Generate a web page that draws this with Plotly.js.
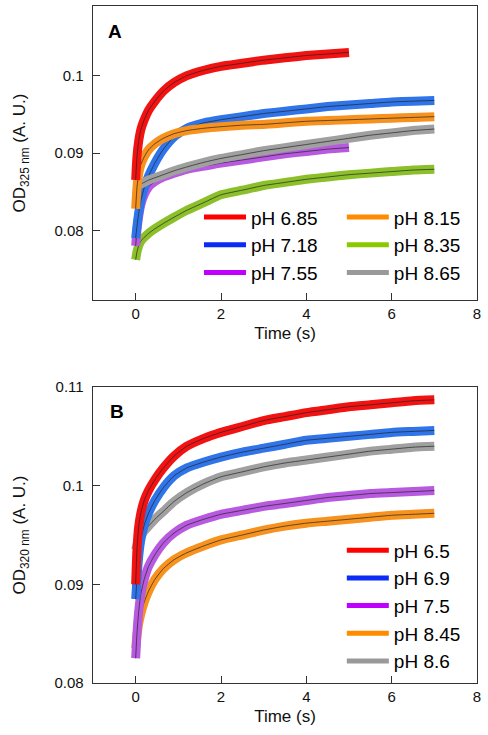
<!DOCTYPE html>
<html>
<head>
<meta charset="utf-8">
<script src="https://cdn.plot.ly/plotly-3.0.1.min.js"></script>
<style>html,body{margin:0;padding:0;background:#fff;}#chart{width:488px;height:735px;}</style>
</head>
<body>
<div id="chart"></div>
<script>
// ---- Panel A data (OD 325 nm) ----
const timeA5 = [0, 0.03, 0.07, 0.12, 0.2, 0.3, 0.45, 0.65, 0.9, 1.2, 1.6, 2, 2.5, 3, 3.5, 4, 4.5, 5];
const timeA7 = [0, 0.03, 0.07, 0.12, 0.2, 0.3, 0.45, 0.65, 0.9, 1.2, 1.6, 2, 2.5, 3, 3.5, 4, 4.5, 5, 5.5, 6, 6.5, 7];
const namesA = ["pH 6.85", "pH 7.18", "pH 7.55", "pH 8.15", "pH 8.35", "pH 8.65"];
const ph685 = [0.0865, 0.0895, 0.0915, 0.0930, 0.0943, 0.0955, 0.0967, 0.0980, 0.0991, 0.1000, 0.1007, 0.1012, 0.1016, 0.1020, 0.1023, 0.1026, 0.1028, 0.1030];
const ph718 = [0.0790, 0.0805, 0.0822, 0.0838, 0.0855, 0.0870, 0.0887, 0.0905, 0.0921, 0.0932, 0.0939, 0.0943, 0.0947, 0.0951, 0.0954, 0.0957, 0.0960, 0.0962, 0.0964, 0.0966, 0.0967, 0.0968];
const ph755 = [0.0780, 0.0800, 0.0818, 0.0833, 0.0846, 0.0856, 0.0863, 0.0869, 0.0874, 0.0879, 0.0883, 0.0887, 0.0891, 0.0895, 0.0899, 0.0902, 0.0905, 0.0907];
const ph815 = [0.0828, 0.0855, 0.0873, 0.0885, 0.0895, 0.0904, 0.0912, 0.0919, 0.0925, 0.0929, 0.0932, 0.0934, 0.0936, 0.0937, 0.0939, 0.0941, 0.0942, 0.0943, 0.0944, 0.0945, 0.0946, 0.0947];
const ph835 = [0.0762, 0.0772, 0.0780, 0.0786, 0.0791, 0.0796, 0.0802, 0.0809, 0.0817, 0.0826, 0.0836, 0.0846, 0.0852, 0.0858, 0.0862, 0.0866, 0.0869, 0.0872, 0.0874, 0.0876, 0.0878, 0.0879];
const ph865 = [0.0855, 0.0856, 0.0858, 0.0860, 0.0862, 0.0865, 0.0868, 0.0872, 0.0877, 0.0882, 0.0888, 0.0893, 0.0898, 0.0903, 0.0907, 0.0911, 0.0915, 0.0919, 0.0923, 0.0926, 0.0929, 0.0931];

// ---- Panel B data (OD 320 nm) ----
const timeB = [0, 0.03, 0.07, 0.12, 0.2, 0.3, 0.45, 0.65, 0.9, 1.2, 1.6, 2, 2.5, 3, 3.5, 4, 4.5, 5, 5.5, 6, 6.5, 7];
const namesB = ["pH 6.5", "pH 6.9", "pH 7.5", "pH 8.45", "pH 8.6"];
const ph65  = [0.0900, 0.0935, 0.0958, 0.0972, 0.0985, 0.0995, 0.1006, 0.1018, 0.1030, 0.1040, 0.1048, 0.1054, 0.1060, 0.1066, 0.1070, 0.1074, 0.1077, 0.1080, 0.1082, 0.1084, 0.1086, 0.1087];
const ph69  = [0.0885, 0.0905, 0.0928, 0.0945, 0.0960, 0.0972, 0.0985, 0.0998, 0.1010, 0.1018, 0.1024, 0.1029, 0.1034, 0.1038, 0.1042, 0.1046, 0.1048, 0.1050, 0.1052, 0.1054, 0.1055, 0.1056];
const ph75  = [0.0825, 0.0850, 0.0872, 0.0890, 0.0905, 0.0918, 0.0930, 0.0942, 0.0952, 0.0960, 0.0966, 0.0971, 0.0975, 0.0979, 0.0982, 0.0985, 0.0988, 0.0990, 0.0992, 0.0993, 0.0994, 0.0995];
const ph845 = [0.0835, 0.0848, 0.0860, 0.0870, 0.0882, 0.0893, 0.0905, 0.0916, 0.0925, 0.0932, 0.0939, 0.0945, 0.0950, 0.0955, 0.0959, 0.0962, 0.0964, 0.0966, 0.0968, 0.0970, 0.0971, 0.0972];
const ph86  = [0.0935, 0.0940, 0.0945, 0.0949, 0.0954, 0.0959, 0.0966, 0.0974, 0.0984, 0.0993, 0.1002, 0.1009, 0.1014, 0.1019, 0.1023, 0.1026, 0.1029, 0.1032, 0.1035, 0.1037, 0.1039, 0.1040];

// axis ticks
const xTicks = [0, 2, 4, 6, 8];
const yTicksA = [0.08, 0.09, 0.1];
const yTickTextA = ["0.08", "0.09", "0.1"];
const yTicksB = [0.08, 0.09, 0.1, 0.11];
const yTickTextB = ["0.08", "0.09", "0.1", "0.11"];

const FONT = "Liberation Sans, Arial, sans-serif";
const traces = [];
function addSeries(x, y, name, band, legendColor, xa, ya, legendId, rank) {
  traces.push({x: x, y: y, type: "scatter", mode: "lines", xaxis: xa, yaxis: ya,
    line: {color: band, width: 9, shape: "spline", smoothing: 0.5}, showlegend: false, hoverinfo: "skip"});
  traces.push({x: x, y: y, type: "scatter", mode: "lines", xaxis: xa, yaxis: ya,
    line: {color: "#222", width: 0.7, shape: "spline", smoothing: 0.5}, showlegend: false, hoverinfo: "skip"});
  traces.push({x: [null], y: [null], type: "scatter", mode: "lines", xaxis: xa, yaxis: ya, name: name,
    line: {color: legendColor, width: 5}, legend: legendId, legendrank: rank});
}
// Panel A
addSeries(timeA7, ph835, namesA[4], "#8cc02a", "#8cc800", "x", "y", "legend2", 2);
addSeries(timeA5, ph755, namesA[2], "#b85ae0", "#c000ff", "x", "y", "legend", 3);
addSeries(timeA7, ph718, namesA[1], "#2f74e8", "#0a2cf5", "x", "y", "legend", 2);
addSeries(timeA7, ph865, namesA[5], "#a0a0a0", "#999999", "x", "y", "legend2", 3);
addSeries(timeA7, ph815, namesA[3], "#f7921e", "#ff8c00", "x", "y", "legend2", 1);
addSeries(timeA5, ph685, namesA[0], "#f21212", "#ff0000", "x", "y", "legend", 1);
// Panel B
addSeries(timeB, ph845, namesB[3], "#f7921e", "#ff8c00", "x2", "y2", "legend3", 4);
addSeries(timeB, ph75,  namesB[2], "#b85ae0", "#c000ff", "x2", "y2", "legend3", 3);
addSeries(timeB, ph86,  namesB[4], "#a0a0a0", "#999999", "x2", "y2", "legend3", 5);
addSeries(timeB, ph69,  namesB[1], "#2f74e8", "#0a2cf5", "x2", "y2", "legend3", 2);
addSeries(timeB, ph65,  namesB[0], "#f21212", "#ff0000", "x2", "y2", "legend3", 1);

const axisCommon = {showline: true, mirror: true, linecolor: "#333", linewidth: 1.3,
  ticks: "inside", ticklen: 7, tickcolor: "#333", tickwidth: 1, showgrid: false, zeroline: false,
  tickfont: {family: FONT, size: 15, color: "#111"}};
const legendCommon = {bgcolor: "rgba(0,0,0,0)", font: {family: FONT, size: 19, color: "#000"},
  xanchor: "left", yanchor: "top", tracegroupgap: 0, itemwidth: 42, itemclick: false};
const xTitle = {text: "Time (s)", font: {family: FONT, size: 17, color: "#111"}, standoff: 5};

const layout = {
  width: 488, height: 735,
  margin: {l: 93, r: 11, t: 6, b: 52},
  paper_bgcolor: "#fff", plot_bgcolor: "#fff",
  font: {family: FONT},
  xaxis: Object.assign({}, axisCommon, {domain: [0, 1], anchor: "y", range: [-1, 8], tickvals: xTicks, title: xTitle}),
  yaxis: Object.assign({}, axisCommon, {domain: [0.5657, 1], anchor: "x", range: [0.071, 0.109],
    tickvals: yTicksA, ticktext: yTickTextA, ticklabelstandoff: 5,
    title: {text: "OD<sub>325 nm</sub> (A. U.)", font: {family: FONT, size: 17, color: "#111"}, standoff: 24}}),
  xaxis2: Object.assign({}, axisCommon, {domain: [0, 1], anchor: "y2", range: [-1, 8], tickvals: xTicks, title: xTitle}),
  yaxis2: Object.assign({}, axisCommon, {domain: [0, 0.4372], anchor: "x2", range: [0.08, 0.11],
    tickvals: yTicksB, ticktext: yTickTextB, ticklabelstandoff: 5,
    title: {text: "OD<sub>320 nm</sub> (A. U.)", font: {family: FONT, size: 17, color: "#111"}, standoff: 24}}),
  legend: Object.assign({}, legendCommon, {x: 0.276, y: 0.716}),
  legend2: Object.assign({}, legendCommon, {x: 0.648, y: 0.716}),
  legend3: Object.assign({}, legendCommon, {x: 0.648, y: 0.224}),
  annotations: [
    {text: "<b>A</b>", xref: "paper", yref: "paper", x: 0.057, y: 0.9616, xanchor: "center", yanchor: "middle",
      showarrow: false, font: {family: FONT, size: 19, color: "#000"}},
    {text: "<b>B</b>", xref: "paper", yref: "paper", x: 0.0625, y: 0.4003, xanchor: "center", yanchor: "middle",
      showarrow: false, font: {family: FONT, size: 19, color: "#000"}}
  ],
  showlegend: true
};

Plotly.newPlot("chart", traces, layout, {staticPlot: true, displayModeBar: false});
</script>
</body>
</html>
